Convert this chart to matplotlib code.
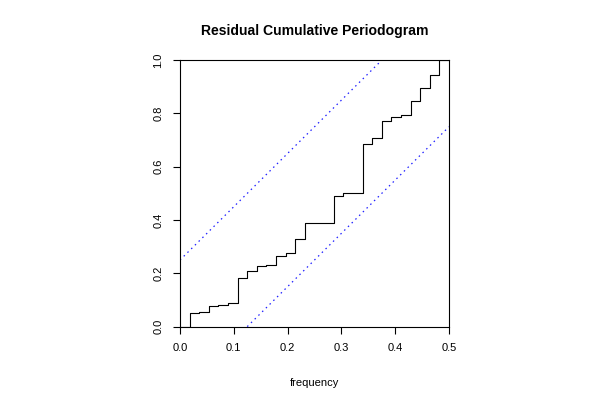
import matplotlib
matplotlib.use("Agg")
import matplotlib.pyplot as plt

# cumulative periodogram values at frequencies k/56, k = 0..28
n_freq = 56
cum_periodogram = [0.0, 0.05, 0.056, 0.076, 0.081, 0.0875, 0.1825, 0.209, 0.2275,
                   0.2325, 0.265, 0.276, 0.3275, 0.3875, 0.389, 0.389, 0.491, 0.501,
                   0.501, 0.684, 0.7075, 0.771, 0.786, 0.796, 0.846, 0.895, 0.944,
                   1.0, 1.0]
freqs = [k / n_freq for k in range(len(cum_periodogram))]
xm = 0.5
crit = 0.25
xticks = [0.0, 0.1, 0.2, 0.3, 0.4, 0.5]
yticks = [0.0, 0.2, 0.4, 0.6, 0.8, 1.0]

plt.rcParams['font.family'] = ['Liberation Sans', 'DejaVu Sans']

fig = plt.figure(figsize=(6, 4), dpi=100)
ax = fig.add_axes([0.3, 0.1835, 0.4483, 0.666])

ax.plot(freqs, cum_periodogram, drawstyle='steps-post', color='black', lw=0.8)
ax.plot([0, xm * (1 - crit)], [crit, 1], color='#2020ff', lw=0.9, ls=(0, (1.2, 3)))
ax.plot([xm * crit, xm], [0, 1 - crit], color='#2020ff', lw=0.9, ls=(0, (1.2, 3)))

ax.set_xlim(0, xm)
ax.set_ylim(0, 1)
ax.set_xticks(xticks)
ax.set_xticklabels(['%.1f' % v for v in xticks])
ax.set_yticks(yticks)
ax.set_yticklabels(['%.1f' % v for v in yticks], rotation=90, va='center')
ax.tick_params(direction='out', length=5, width=0.8, labelsize=8, pad=7)
for s in ax.spines.values():
    s.set_linewidth(0.8)

ax.set_xlabel('frequency', fontsize=8, labelpad=18)
fig.text(0.5245, 0.922, 'Residual Cumulative Periodogram', ha='center', va='center',
         fontsize=10.1, fontweight='bold')

fig.savefig('out.png', dpi=100)
